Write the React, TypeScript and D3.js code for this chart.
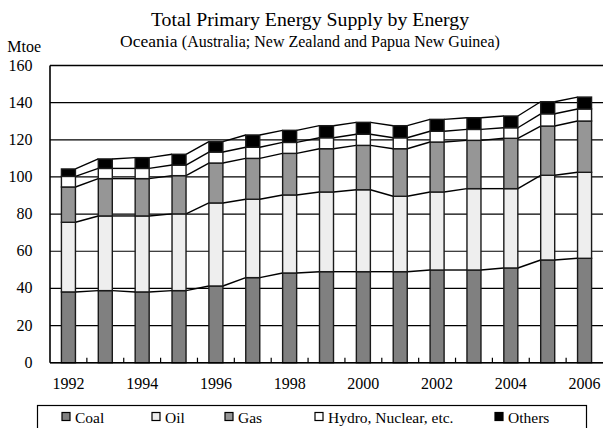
import React from 'react';
import * as d3 from 'd3';

const years = ['1992','1993','1994','1995','1996','1997','1998','1999','2000','2001','2002','2003','2004','2005','2006'];
const coal = [38.1, 38.8, 38.1, 38.8, 41.3, 45.8, 48.3, 49.0, 49.0, 49.0, 49.9, 49.9, 51.0, 55.3, 56.2];
const oil = [37.5, 40.2, 40.9, 41.3, 44.7, 42.2, 42.0, 42.9, 44.1, 40.6, 42.0, 43.8, 42.7, 45.6, 46.3];
const gas = [19.0, 20.1, 20.1, 20.6, 21.5, 22.0, 22.4, 23.3, 23.9, 25.6, 26.9, 26.0, 27.1, 26.5, 27.6];
const hydro = [5.7, 5.5, 5.5, 5.7, 5.9, 6.0, 5.9, 5.9, 6.0, 5.9, 5.8, 5.9, 5.7, 6.6, 6.5];
const others = [4.0, 5.1, 5.8, 5.8, 5.6, 6.6, 6.5, 6.5, 6.4, 6.5, 6.4, 6.3, 6.3, 6.5, 6.4];
const seriesKeys = ['coal', 'oil', 'gas', 'hydro', 'others'];
const seriesNames = ['Coal', 'Oil', 'Gas', 'Hydro, Nuclear, etc.', 'Others'];
const seriesColors = ['#808080', '#eeeeee', '#969696', '#ffffff', '#000000'];
const yTicks = [0, 20, 40, 60, 80, 100, 120, 140, 160];
const xLabelYears = ['1992','1994','1996','1998','2000','2002','2004','2006'];

const legendSquareX = [62, 152, 225, 315, 495];

export default function App() {
  const W = 605, H = 428;
  const left = 50, right = 603, top = 65.5, bottom = 362.7;
  const x = d3.scaleBand<string>().domain(years).range([left, right]).paddingInner(0.62).paddingOuter(0.31);
  const bandStep = x.step();
  const y = d3.scaleLinear().domain([0, 160]).range([bottom, top]);

  const rows = years.map((yr, i) => ({
    year: yr,
    coal: coal[i], oil: oil[i], gas: gas[i], hydro: hydro[i], others: others[i],
  }));
  const stack = d3.stack<any>().keys(seriesKeys);
  const stacked = stack(rows);

  const bw = x.bandwidth();
  const f = { fontFamily: "'Liberation Serif', 'Times New Roman', serif" };

  return (
    <svg width={W} height={H} style={{ position: 'absolute', left: 0, top: 0, background: '#fff' }}>
      <rect x={0} y={0} width={W} height={H} fill="#fff" />
      {/* Titles */}
      <text x={310} y={25.7} textAnchor="middle" style={f} fontSize={19.8} fill="#000">
        Total Primary Energy Supply by Energy
      </text>
      <text x={310} y={46.7} textAnchor="middle" style={f} fill="#000">
        <tspan fontSize={17.5}>Oceania </tspan>
        <tspan fontSize={16}>(Australia; New Zealand and Papua New Guinea)</tspan>
      </text>
      <text x={7.3} y={52.3} style={f} fontSize={16} fill="#000">Mtoe</text>

      {/* gridlines */}
      {yTicks.map(t => (
        <line key={'g' + t} x1={left} x2={right} y1={y(t)} y2={y(t)} stroke="#000" strokeWidth={1.2} />
      ))}
      {yTicks.map(t => (
        <text key={'yl' + t} x={32.5} y={y(t) + 5} textAnchor="end" style={f} fontSize={16} fill="#000">{t}</text>
      ))}

      {/* bottom ticks at band boundaries */}
      {years.slice(1).map((yr) => {
        const xx = (x(yr) as number) - (bandStep - bw) / 2;
        return <line key={'t' + yr} x1={xx} x2={xx} y1={bottom} y2={bottom - 5} stroke="#000" strokeWidth={1.2} />;
      })}

      {/* connector lines */}
      {stacked.map((s) => (
        <g key={'c' + s.key}>
          {s.slice(0, -1).map((d, i) => {
            const x1 = (x(years[i]) as number) + bw;
            const x2 = x(years[i + 1]) as number;
            return <line key={i} x1={x1} x2={x2} y1={y(d[1])} y2={y(s[i + 1][1])} stroke="#000" strokeWidth={1.4} />;
          })}
        </g>
      ))}

      {/* bars */}
      {stacked.map((s, si) => (
        <g key={'b' + s.key}>
          {s.map((d, i) => (
            <rect key={i} x={x(years[i])} y={y(d[1])} width={bw} height={y(d[0]) - y(d[1])}
              fill={seriesColors[si]} stroke="#1a1a1a" strokeWidth={1.4} />
          ))}
        </g>
      ))}

      {/* axis frame */}
      <line x1={left} x2={left} y1={top} y2={bottom} stroke="#000" strokeWidth={1.6} />
      <line x1={left} x2={right} y1={bottom} y2={bottom} stroke="#000" strokeWidth={1.6} />
      <line x1={left} x2={right} y1={top} y2={top} stroke="#000" strokeWidth={1.6} />

      {/* x labels */}
      {xLabelYears.map(yr => (
        <text key={'xl' + yr} x={(x(yr) as number) + bw / 2} y={389} textAnchor="middle" style={f} fontSize={16} fill="#000">{yr}</text>
      ))}

      {/* legend */}
      <rect x={37.5} y={405.5} width={549} height={30} fill="none" stroke="#000" strokeWidth={1.2} />
      {seriesNames.map((n, i) => (
        <g key={'lg' + i}>
          <rect x={legendSquareX[i]} y={412.5} width={8} height={8} fill={seriesColors[i]} stroke="#000" strokeWidth={1.2} />
          <text x={legendSquareX[i] + 13} y={422.5} style={f} fontSize={15.5} fill="#000">{n}</text>
        </g>
      ))}
    </svg>
  );
}
